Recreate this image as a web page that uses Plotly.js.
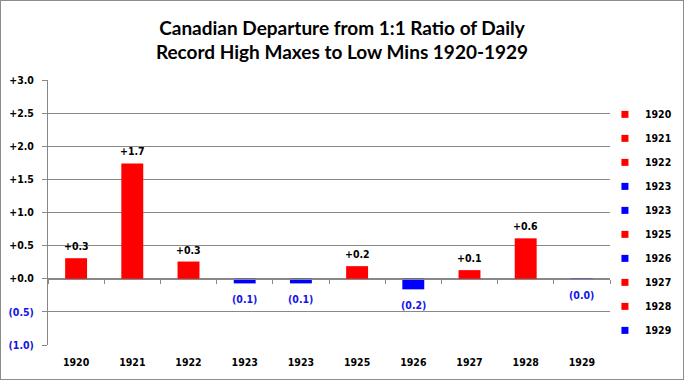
<!DOCTYPE html>
<html><head><meta charset="utf-8">
<script src="https://cdn.plot.ly/plotly-3.0.1.min.js"></script>
<style>
html,body{margin:0;padding:0;background:#fff;}
#wrap{position:relative;width:684px;height:380px;}
#chart{width:684px;height:380px;}
#frame{position:absolute;left:0;top:0;width:684px;height:380px;box-sizing:border-box;border:1px solid #8c8c8c;pointer-events:none;}
</style></head>
<body>
<div id="wrap"><div id="chart"></div><div id="frame"></div></div>
<script>
var years = ["1920","1921","1922","1923","1923","1925","1926","1927","1928","1929"];
var departures = [0.31, 1.74, 0.26, -0.07, -0.07, 0.19, -0.16, 0.13, 0.61, -0.01];
var yTickVals = [-1, -0.5, 0, 0.5, 1, 1.5, 2, 2.5, 3];
var chartTitle = "Canadian Departure from 1:1 Ratio of Daily<br>Record High Maxes to Low Mins 1920-1929";

var RED = "#ff0000", BLUE = "#0000ff", TXTBLUE = "#1414e6", GRID = "#888888";
var FONT = "DejaVu Sans Condensed, DejaVu Sans, sans-serif";
var FS = 10.5;

function fmt(v){ return v >= 0 ? "+" + v.toFixed(1) : "(" + Math.abs(v).toFixed(1) + ")"; }
var pos = years.map(function(_, i){ return i; });
var colors = departures.map(function(v){ return v >= 0 ? RED : BLUE; });

var traces = [{
  type: "bar", x: pos, y: departures, marker: {color: colors, line: {width: 0}},
  width: 0.39, showlegend: false, hoverinfo: "skip"
}];
years.forEach(function(y, i){
  traces.push({
    type: "scatter", mode: "markers", x: [null], y: [null], xaxis: "x2",
    name: y, legendgroup: "g" + i,
    marker: {symbol: "square", size: 7, color: colors[i]}
  });
});

var annotations = departures.map(function(v, i){
  var neg = v < 0;
  return {
    x: i, y: v, xref: "x", yref: "y", text: fmt(v), showarrow: false,
    yanchor: neg ? "top" : "bottom", yshift: neg ? -8 : 4,
    font: {family: FONT, size: FS, color: neg ? TXTBLUE : "#000", weight: "bold"}
  };
});

var yTickText = yTickVals.map(function(v){
  return v >= 0 ? "+" + v.toFixed(1) : '<span style="color:' + TXTBLUE + '">(' + Math.abs(v).toFixed(1) + ')</span>';
});
var boundaries = [];
for (var k = 0; k <= years.length; k++) boundaries.push(k - 0.5);

var layout = {
  width: 684, height: 380,
  margin: {l: 48, r: 74, t: 80, b: 35, autoexpand: false},
  paper_bgcolor: "#fff", plot_bgcolor: "#fff",
  title: {text: chartTitle, x: 0.5, xref: "container", yref: "container", y: 0.909, yanchor: "middle",
          font: {family: "Lato, sans-serif", size: 19, color: "#000", weight: "bold"}},
  showlegend: true,
  legend: {x: 0.991, xanchor: "left", y: 0.925, yanchor: "top", xref: "paper", yref: "paper",
           font: {family: FONT, size: FS, color: "#000", weight: "bold"},
           tracegroupgap: 5, itemwidth: 30, bgcolor: "rgba(0,0,0,0)"},
  xaxis: {range: [-0.5, years.length - 0.5], tickvals: pos, ticktext: years,
          showgrid: false, zeroline: false, showline: false, ticks: "", ticklabelstandoff: 9,
          tickfont: {family: FONT, size: FS, color: "#000", weight: "bold"}, fixedrange: true},
  xaxis2: {overlaying: "x", anchor: "free", position: 0.25, range: [-0.5, years.length - 0.5],
           tickvals: boundaries, ticks: "outside", ticklen: 4, tickcolor: GRID, tickwidth: 1,
           showticklabels: false, showline: true, linecolor: GRID, linewidth: 1,
           showgrid: false, zeroline: false},
  yaxis: {range: [-1, 3], tickvals: yTickVals, ticktext: yTickText,
          showgrid: true, gridcolor: GRID, gridwidth: 1, zeroline: false,
          showline: true, linecolor: GRID, linewidth: 1, ticks: "outside", ticklen: 5, tickcolor: GRID,
          ticklabelstandoff: 6,
          tickfont: {family: FONT, size: FS, color: "#000", weight: "bold"}, fixedrange: true},
  annotations: annotations
};

Plotly.newPlot("chart", traces, layout, {displayModeBar: false, staticPlot: true});
</script>
</body></html>
